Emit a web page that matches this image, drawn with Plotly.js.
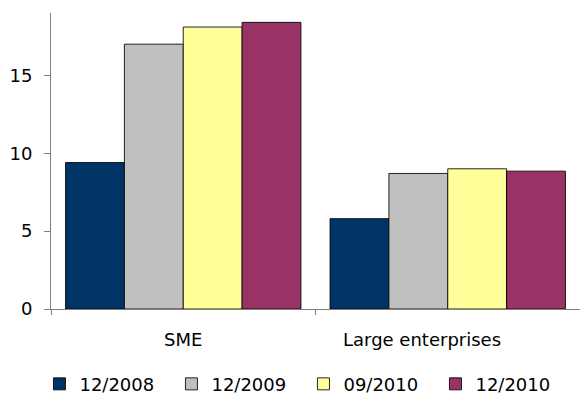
<!DOCTYPE html>
<html>
<head>
<meta charset="utf-8">
<script src="https://cdn.plot.ly/plotly-3.0.1.min.js"></script>
<style>html,body{margin:0;padding:0;background:#fff;}#chart{width:580px;height:394px;}</style>
</head>
<body>
<div id="chart"></div>
<script>
var categories = ["SME", "Large enterprises"];
var seriesNames = ["12/2008", "12/2009", "09/2010", "12/2010"];
var series2008_12 = [9.4, 5.8];
var series2009_12 = [17.0, 8.7];
var series2010_09 = [18.1, 9.0];
var series2010_12 = [18.4, 8.85];
var yTickValues = [0, 5, 10, 15];
var seriesColors = ["#003366", "#C0C0C0", "#FFFF99", "#993366"];

var allValues = [series2008_12, series2009_12, series2010_09, series2010_12];
var traces = allValues.map(function (vals, i) {
  return {
    type: "bar",
    name: seriesNames[i],
    x: categories,
    y: vals,
    marker: { color: seriesColors[i], line: { color: "rgba(0,0,0,0.85)", width: 1 } },
    hoverinfo: "none"
  };
});

var font = { family: "DejaVu Sans, Verdana, sans-serif", size: 18, color: "#000" };
var labelShift = [0, -26];
var annotations = categories.map(function (c, i) {
  return {
    text: c, x: c, xref: "x", y: 0, yref: "paper",
    yanchor: "middle", xanchor: "center", yshift: -30, xshift: labelShift[i],
    showarrow: false, font: font
  };
});

var layout = {
  width: 580, height: 394,
  margin: { l: 51, r: 0, t: 13, b: 85 },
  paper_bgcolor: "#fff", plot_bgcolor: "#fff",
  barmode: "group", bargap: 0.11, bargroupgap: 0,
  font: font,
  showlegend: true,
  legend: {
    orientation: "h", x: 0.068, xanchor: "left", xref: "container",
    y: 0.025, yanchor: "middle", yref: "container",
    font: font, entrywidth: 87, itemwidth: 30, traceorder: "normal",
    bgcolor: "rgba(0,0,0,0)"
  },
  xaxis: {
    type: "category", showgrid: false, zeroline: false,
    showline: true, linecolor: "#808080", linewidth: 1,
    ticks: "outside", tickson: "boundaries", ticklen: 5, tickcolor: "#808080",
    showticklabels: false, range: [-0.5, 1.5], fixedrange: true
  },
  yaxis: {
    range: [0, 19], tickvals: yTickValues, showgrid: false, zeroline: false,
    showline: true, linecolor: "#808080", linewidth: 1,
    ticks: "outside", ticklen: 6, tickcolor: "#808080",
    ticklabelstandoff: 8, tickfont: font, fixedrange: true
  },
  annotations: annotations
};

Plotly.newPlot("chart", traces, layout, { displayModeBar: false, staticPlot: true });
</script>
</body>
</html>
